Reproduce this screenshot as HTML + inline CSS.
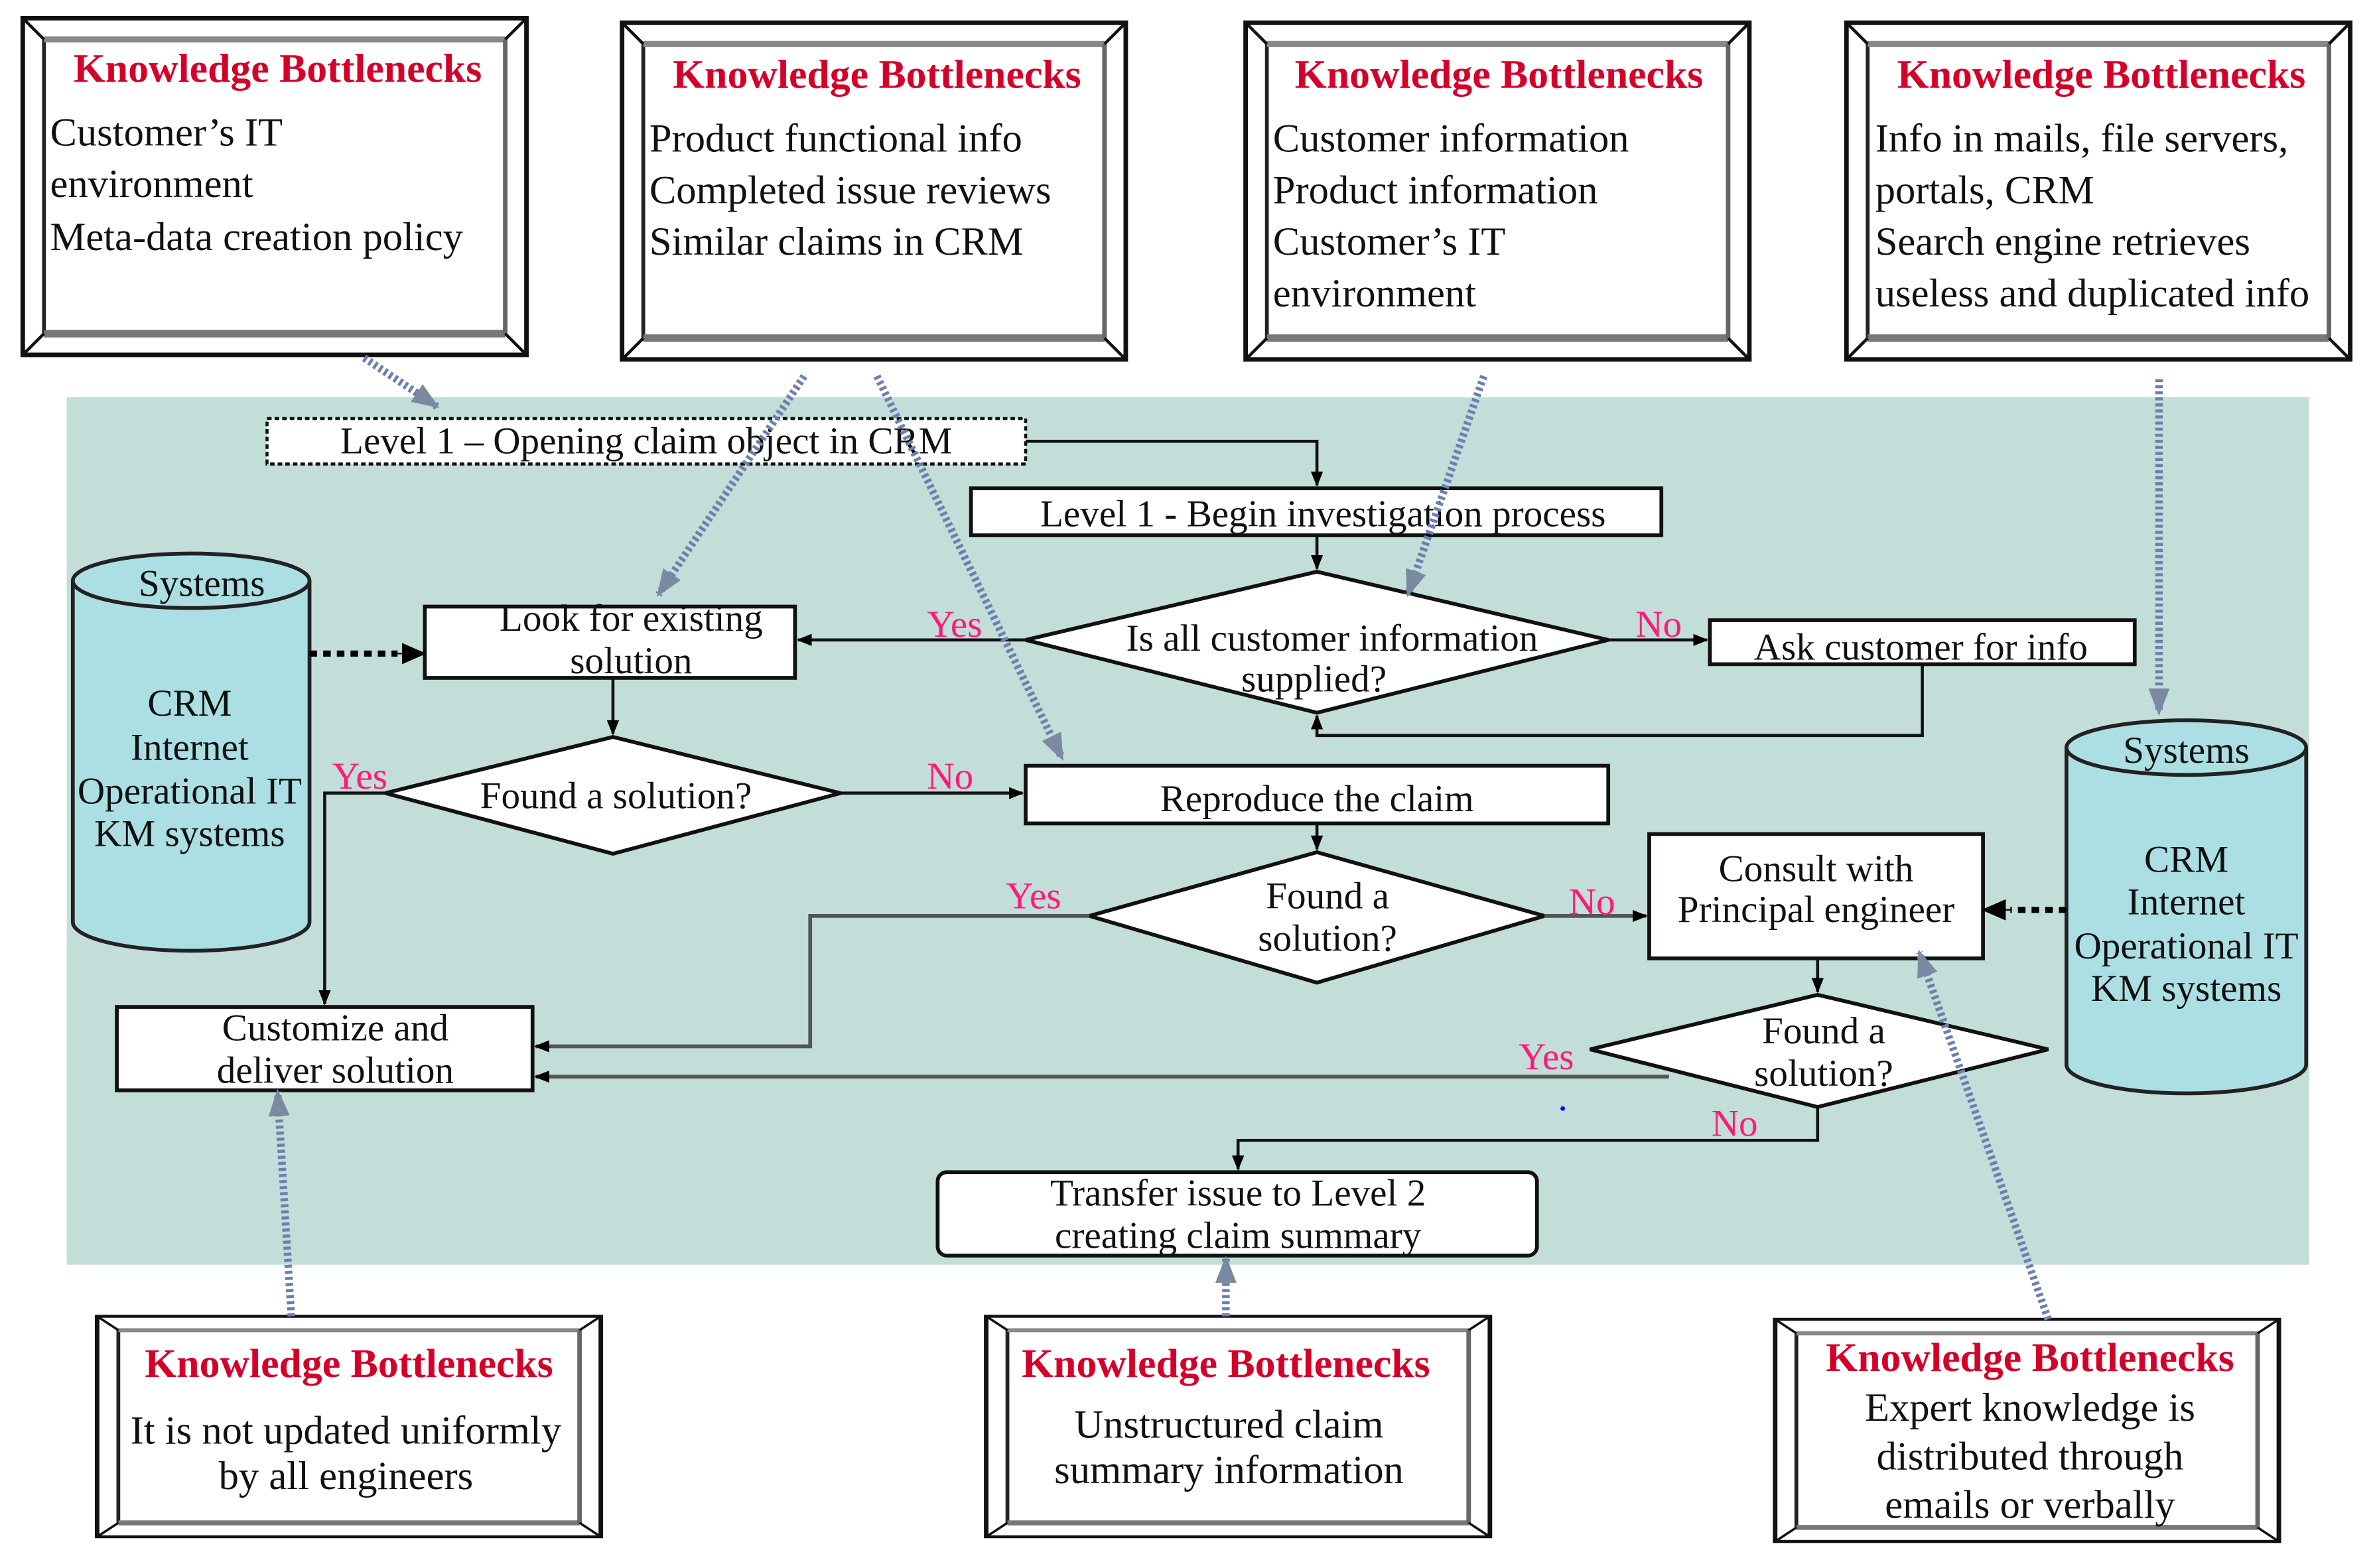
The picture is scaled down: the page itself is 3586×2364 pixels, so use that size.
<!DOCTYPE html>
<html><head><meta charset="utf-8"><style>
html,body{margin:0;padding:0;background:#fff;}
svg{display:block;}
text{font-family:"Liberation Serif",serif;}
.t{fill:#d4002a;font-weight:bold;font-size:27px;}
.b{fill:#111;font-size:26.5px;}
.n{fill:#111;font-size:25px;}
.p{fill:#ff1a7a;font-size:25px;}
</style></head><body>
<svg width="3586" height="2364" viewBox="0 0 1568 1034" preserveAspectRatio="none" xmlns="http://www.w3.org/2000/svg">
<defs>
<marker id="a" markerWidth="10" markerHeight="10" refX="9" refY="5" orient="auto" markerUnits="userSpaceOnUse"><path d="M0,1 L10,5 L0,9 z" fill="#000"/></marker>
<marker id="ab" markerWidth="16" markerHeight="16" refX="15" refY="8" orient="auto" markerUnits="userSpaceOnUse"><path d="M0,1 L16,8 L0,15 z" fill="#000"/></marker>
<marker id="g" markerWidth="18" markerHeight="16" refX="16" refY="8" orient="auto" markerUnits="userSpaceOnUse"><path d="M0,1 L18,8 L0,15 z" fill="#7a8aa0"/></marker>
<g id="frame">
<rect x="0" y="0" width="332" height="222" fill="#fff" stroke="#111" stroke-width="3"/>
<rect x="14" y="14" width="304" height="194" fill="#fff" stroke="#222" stroke-width="2.5"/>
<line x1="14" y1="14" x2="318" y2="14" stroke="#888" stroke-width="4"/>
<line x1="14" y1="208" x2="318" y2="208" stroke="#777" stroke-width="5"/>
<line x1="318" y1="14" x2="318" y2="208" stroke="#666" stroke-width="3"/>
<line x1="0" y1="0" x2="14" y2="14" stroke="#111" stroke-width="2"/>
<line x1="332" y1="0" x2="318" y2="14" stroke="#111" stroke-width="2"/>
<line x1="0" y1="222" x2="14" y2="208" stroke="#111" stroke-width="2"/>
<line x1="332" y1="222" x2="318" y2="208" stroke="#111" stroke-width="2"/>
</g>
</defs>

<rect x="44" y="262" width="1478" height="572" fill="#c3ddd8"/>

<use href="#frame" transform="translate(15,12)"/>
<text class="t" x="183" y="54" text-anchor="middle">Knowledge Bottlenecks</text>
<text class="b" x="33" y="96">Customer’s IT</text>
<text class="b" x="33" y="130">environment</text>
<text class="b" x="33" y="165">Meta-data creation policy</text>

<use href="#frame" transform="translate(410,15)"/>
<text class="t" x="578" y="58" text-anchor="middle">Knowledge Bottlenecks</text>
<text class="b" x="428" y="100">Product functional info</text>
<text class="b" x="428" y="134">Completed issue reviews</text>
<text class="b" x="428" y="168">Similar claims in CRM</text>

<use href="#frame" transform="translate(821,15)"/>
<text class="t" x="988" y="58" text-anchor="middle">Knowledge Bottlenecks</text>
<text class="b" x="839" y="100">Customer information</text>
<text class="b" x="839" y="134">Product information</text>
<text class="b" x="839" y="168">Customer’s IT</text>
<text class="b" x="839" y="202">environment</text>

<use href="#frame" transform="translate(1217,15)"/>
<text class="t" x="1385" y="58" text-anchor="middle">Knowledge Bottlenecks</text>
<text class="b" x="1236" y="100">Info in mails, file servers,</text>
<text class="b" x="1236" y="134">portals, CRM</text>
<text class="b" x="1236" y="168">Search engine retrieves</text>
<text class="b" x="1236" y="202">useless and duplicated info</text>

<use href="#frame" transform="translate(64,868) scale(1,0.655)"/>
<text class="t" x="230" y="908" text-anchor="middle">Knowledge Bottlenecks</text>
<text class="b" x="228" y="952" text-anchor="middle">It is not updated uniformly</text>
<text class="b" x="228" y="982" text-anchor="middle">by all engineers</text>

<use href="#frame" transform="translate(650,868) scale(1,0.655)"/>
<text class="t" x="808" y="908" text-anchor="middle">Knowledge Bottlenecks</text>
<text class="b" x="810" y="948" text-anchor="middle">Unstructured claim</text>
<text class="b" x="810" y="978" text-anchor="middle">summary information</text>

<use href="#frame" transform="translate(1170,870) scale(1,0.66)"/>
<text class="t" x="1338" y="904" text-anchor="middle">Knowledge Bottlenecks</text>
<text class="b" x="1338" y="937" text-anchor="middle">Expert knowledge is</text>
<text class="b" x="1338" y="969" text-anchor="middle">distributed through</text>
<text class="b" x="1338" y="1001" text-anchor="middle">emails or verbally</text>

<g stroke="#222" stroke-width="2.5" fill="#acdfe3">
<path d="M48,383 L48,608 A78,19 0 0 0 204,608 L204,383"/>
<ellipse cx="126" cy="383" rx="78" ry="18"/>
<path d="M1362,493 L1362,702 A79,19 0 0 0 1520,702 L1520,493"/>
<ellipse cx="1441" cy="493" rx="79" ry="18"/>
</g>
<text class="n" x="133" y="393" text-anchor="middle">Systems</text>
<text class="n" x="125" y="472" text-anchor="middle">CRM</text>
<text class="n" x="125" y="501" text-anchor="middle">Internet</text>
<text class="n" x="125" y="530" text-anchor="middle">Operational IT</text>
<text class="n" x="125" y="558" text-anchor="middle">KM systems</text>
<text class="n" x="1441" y="503" text-anchor="middle">Systems</text>
<text class="n" x="1441" y="575" text-anchor="middle">CRM</text>
<text class="n" x="1441" y="603" text-anchor="middle">Internet</text>
<text class="n" x="1441" y="632" text-anchor="middle">Operational IT</text>
<text class="n" x="1441" y="660" text-anchor="middle">KM systems</text>

<g fill="#fff" stroke="#111" stroke-width="2.5">
<rect x="176" y="276" width="500" height="30" stroke-dasharray="3 2" stroke-width="2"/>
<rect x="640" y="322" width="455" height="31"/>
<polygon points="676,422 868,377 1060,422 868,470"/>
<rect x="1127" y="409" width="280" height="29"/>
<rect x="280" y="400" width="244" height="47"/>
<polygon points="254,523 404,486 554,523 404,563"/>
<rect x="676" y="505" width="384" height="38"/>
<polygon points="718,604 868,562 1018,604 868,648"/>
<rect x="1087" y="550" width="220" height="82"/>
<polygon points="1048,692 1198,656 1350,692 1198,730"/>
<rect x="77" y="664" width="274" height="55"/>
<rect x="618" y="773" width="395" height="55" rx="6"/>
</g>
<text class="n" x="426" y="299" text-anchor="middle">Level 1 – Opening claim object in CRM</text>
<text class="n" x="872" y="347" text-anchor="middle">Level 1 - Begin investigation process</text>
<text class="n" x="878" y="429" text-anchor="middle">Is all customer information</text>
<text class="n" x="866" y="456" text-anchor="middle">supplied?</text>
<text class="n" x="1266" y="435" text-anchor="middle">Ask customer for info</text>
<text class="n" x="416" y="416" text-anchor="middle">Look for existing</text>
<text class="n" x="416" y="444" text-anchor="middle">solution</text>
<text class="n" x="406" y="533" text-anchor="middle">Found a solution?</text>
<text class="n" x="868" y="535" text-anchor="middle">Reproduce the claim</text>
<text class="n" x="875" y="599" text-anchor="middle">Found a</text>
<text class="n" x="875" y="627" text-anchor="middle">solution?</text>
<text class="n" x="1197" y="581" text-anchor="middle">Consult with</text>
<text class="n" x="1197" y="608" text-anchor="middle">Principal engineer</text>
<text class="n" x="1202" y="688" text-anchor="middle">Found a</text>
<text class="n" x="1202" y="716" text-anchor="middle">solution?</text>
<text class="n" x="221" y="686" text-anchor="middle">Customize and</text>
<text class="n" x="221" y="714" text-anchor="middle">deliver solution</text>
<text class="n" x="816" y="795" text-anchor="middle">Transfer issue to Level 2</text>
<text class="n" x="816" y="823" text-anchor="middle">creating claim summary</text>

<g fill="none" stroke="#111" stroke-width="2">
<path d="M676,291 H868 V320" marker-end="url(#a)"/>
<path d="M868,353 V375" marker-end="url(#a)"/>
<path d="M676,422 H526" marker-end="url(#a)"/>
<path d="M1060,422 H1125" marker-end="url(#a)"/>
<path d="M1267,438 V485 H868 V472" marker-end="url(#a)"/>
<path d="M404,447 V484" marker-end="url(#a)"/>
<path d="M554,523 H674" marker-end="url(#a)"/>
<path d="M254,523 H214 V662" marker-end="url(#a)"/>
<path d="M868,543 V560" marker-end="url(#a)"/>
<path d="M1198,632 V654" marker-end="url(#a)"/>
<path d="M1198,730 V752 H816 V771" marker-end="url(#a)"/>
</g>
<g fill="none" stroke="#555" stroke-width="2.5">
<path d="M718,604 H534 V690 H353" marker-end="url(#a)"/>
<path d="M1018,604 H1085" marker-end="url(#a)"/>
<path d="M1100,710 H353" marker-end="url(#a)"/>
</g>
<path d="M204,431 H262" stroke="#000" stroke-width="4" stroke-dasharray="5 4" fill="none"/>
<path d="M262,431 L280,431" stroke="#000" stroke-width="1" marker-end="url(#ab)"/>
<path d="M1362,600 H1325" stroke="#000" stroke-width="4" stroke-dasharray="5 4" fill="none"/>
<path d="M1325,600 L1307,600" stroke="#000" stroke-width="1" marker-end="url(#ab)"/>

<text class="p" x="611" y="420">Yes</text>
<text class="p" x="1078" y="420">No</text>
<text class="p" x="611" y="520">No</text>
<text class="p" x="219" y="520">Yes</text>
<text class="p" x="663" y="599">Yes</text>
<text class="p" x="1034" y="603">No</text>
<text class="p" x="1001" y="705">Yes</text>
<text class="p" x="1128" y="749">No</text>
<circle cx="1030" cy="731" r="1.5" fill="#00f"/>

<g fill="none" stroke="#6c80b0" stroke-width="5" stroke-dasharray="2 2">
<path d="M240,236 L288,268" marker-end="url(#g)"/>
<path d="M530,248 L434,392" marker-end="url(#g)"/>
<path d="M578,248 L700,500" marker-end="url(#g)"/>
<path d="M978,248 L928,392" marker-end="url(#g)"/>
<path d="M1423,250 L1423,470" marker-end="url(#g)"/>
<path d="M192,868 L183,720" marker-end="url(#g)"/>
<path d="M808,868 L808,830" marker-end="url(#g)"/>
<path d="M1350,870 L1265,628" marker-end="url(#g)"/>
</g>
</svg>
</body></html>
